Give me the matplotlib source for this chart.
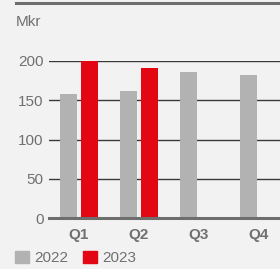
import matplotlib
matplotlib.use("Agg")
import matplotlib.pyplot as plt
import numpy as np

plt.rcParams['font.family'] = ['Liberation Sans', 'DejaVu Sans']

# data
quarters = ["Q1", "Q2", "Q3", "Q4"]
values_2022 = [158, 162, 186, 182]
values_2023 = [200, 191]
yticks = [0, 50, 100, 150, 200]

bg = "#f2f2f2"
grey = "#b2b2b2"
red = "#e30613"
txt = "#707070"

fig = plt.figure(figsize=(2.8, 2.69), dpi=100, facecolor=bg)
ax = fig.add_axes([49 / 280, 1 - 218 / 269, 240 / 280, 157 / 269])
ax.set_facecolor(bg)

x = np.arange(len(quarters))
w = 17 / 60
off = 10.5 / 60
ax.bar(x - off, values_2022, width=w, color=grey, zorder=3, clip_on=False)
ax.bar(x[:len(values_2023)] + off, values_2023, width=w, color=red, zorder=3, clip_on=False)

ax.set_xlim(-0.5, 3.5)
ax.set_ylim(0, 200)

for v in yticks[1:]:
    ax.axhline(v, color="#3a3a3a", lw=1.0, zorder=1)
ax.axhline(0, color="#6e6e6e", lw=2.2, zorder=4, clip_on=False)

ax.set_yticks(yticks)
ax.set_yticklabels([str(v) for v in yticks])
ax.set_xticks(x)
ax.set_xticklabels(quarters, fontweight="bold")
ax.tick_params(axis="y", length=0, pad=4, labelsize=11, labelcolor=txt)
ax.tick_params(axis="x", length=0, pad=7, labelsize=11, labelcolor=txt)
for s in ax.spines.values():
    s.set_visible(False)

# top rule and unit label
fig.add_artist(plt.Line2D([16 / 280, 1], [1 - 2.5 / 269, 1 - 2.5 / 269],
                          color="#6e6e6e", lw=2.2))
fig.text(16 / 280, 1 - 22 / 269, "Mkr", color=txt, fontsize=11, va="center", ha="left")

# legend
handles = [plt.Rectangle((0, 0), 1, 1, color=grey),
           plt.Rectangle((0, 0), 1, 1, color=red)]
fig.legend(handles, ["2022", "2023"], loc="lower left",
           bbox_to_anchor=(1 / 280, -10 / 269), ncol=2, frameon=False,
           handlelength=0.9, handleheight=0.9, handletextpad=0.35,
           columnspacing=1.0, fontsize=11, labelcolor=txt)

fig.savefig("out.png", dpi=100, facecolor=bg)
